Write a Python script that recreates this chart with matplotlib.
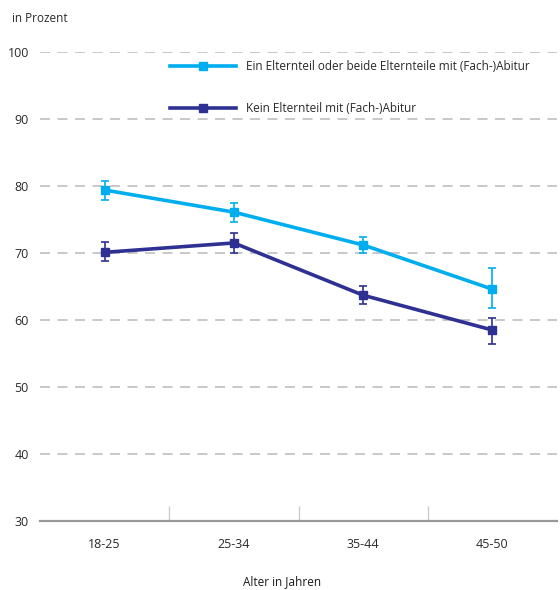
import numpy as np
import matplotlib.pyplot as plt
from matplotlib.lines import Line2D

plt.rcParams['font.family'] = ['Open Sans', 'DejaVu Sans']

# data
ages = ['18-25', '25-34', '35-44', '45-50']
abitur = [79.4, 76.1, 71.2, 64.6]
abitur_lo = [77.9, 74.6, 70.0, 61.8]
abitur_hi = [80.7, 77.5, 72.4, 67.8]
kein = [70.1, 71.5, 63.7, 58.5]
kein_lo = [68.8, 70.0, 62.4, 56.4]
kein_hi = [71.6, 73.0, 65.1, 60.3]
yticks = [30, 40, 50, 60, 70, 80, 90, 100]
labels = ['Ein Elternteil oder beide Elternteile mit (Fach-)Abitur',
          'Kein Elternteil mit (Fach-)Abitur']

light = '#00aeef'
dark = '#2e3192'

fig = plt.figure(figsize=(5.6, 5.9), dpi=100)
ax = fig.add_axes([40 / 560, 1 - 521 / 590, 517 / 560, 469 / 590])

x = np.arange(len(ages))
for vals, lo, hi, col in [(abitur, abitur_lo, abitur_hi, light),
                          (kein, kein_lo, kein_hi, dark)]:
    vals = np.array(vals)
    err = [vals - np.array(lo), np.array(hi) - vals]
    ax.errorbar(x, vals, yerr=err, color=col, lw=2.6, marker='s', ms=6,
                elinewidth=1.2, capsize=3, capthick=1.2, zorder=3)

for y in yticks[1:]:
    ax.axhline(y, color='#bfbfbf', lw=1.2, ls=(0, (6, 4.5)), zorder=1)

ax.set_xlim(-0.5, 3.5)
ax.set_ylim(30, 100)
ax.set_yticks(yticks)
ax.set_xticks(x)
ax.set_xticklabels(ages)
ax.set_xticks([0.5, 1.5, 2.5], minor=True)
ax.tick_params(axis='x', which='major', length=0, pad=12, labelsize=9, colors='#2a2a2a')
ax.tick_params(axis='x', which='minor', direction='in', length=11, width=1, color='#cccccc')
ax.tick_params(axis='y', length=0, pad=8, labelsize=9, colors='#2a2a2a')
for s in ['top', 'right', 'left']:
    ax.spines[s].set_visible(False)
ax.spines['bottom'].set_color('#999999')
ax.spines['bottom'].set_linewidth(1.6)

handles = [Line2D([], [], color=light, lw=2.6, marker='s', ms=6),
           Line2D([], [], color=dark, lw=2.6, marker='s', ms=6)]
ax.legend(handles, labels, loc='upper left', bbox_to_anchor=(0.23, 1.005),
          frameon=False, fontsize=8.5, handlelength=5.6, handletextpad=0.9,
          labelspacing=2.43, labelcolor='#2a2a2a')

fig.text(12 / 560, 1 - 18 / 590, 'in Prozent', fontsize=8.5, color='#2a2a2a',
         va='center', ha='left')
fig.text(0.503, 1 - 582 / 590, 'Alter in Jahren', fontsize=8.5, color='#1a1a1a',
         va='center', ha='center')

fig.savefig('out.png', dpi=100)
